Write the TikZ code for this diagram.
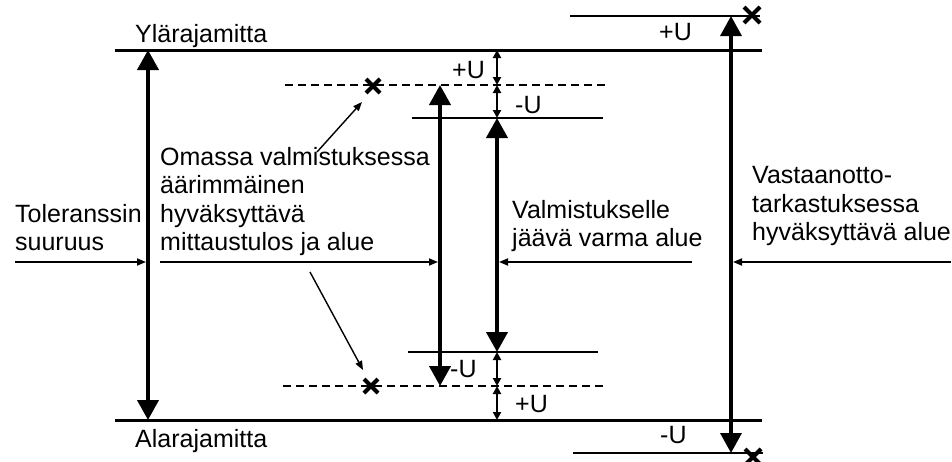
\documentclass[tikz,border=0pt]{standalone}
\usepackage{fontspec}
\setmainfont{Liberation Sans}
\usetikzlibrary{arrows.meta}
\begin{document}
\begin{tikzpicture}[x=1pt,y=-1pt,
  txt/.style={anchor=base west,inner sep=0pt,font=\fontsize{25}{29}\selectfont},
  hline/.style={line width=3pt},
  midline/.style={line width=2.2pt},
  dline/.style={line width=2.4pt,dash pattern=on 8pt off 5pt},
  bigarrow/.style={line width=4pt,{Triangle[length=20pt,width=21pt]}-{Triangle[length=20pt,width=21pt]}},
  smallarrow/.style={line width=2.2pt,{Triangle[length=8pt,width=8pt]}-{Triangle[length=8pt,width=8pt]}},
  pointer/.style={line width=1.7pt,-{Triangle[length=9pt,width=7pt]}},
  xmark/.style={line width=4pt}
]
\useasboundingbox (0,0) rectangle (952,461);

% coordinates
\coordinate (TL) at (115,50);   \coordinate (TR) at (762,50);
\coordinate (BL) at (115,420);  \coordinate (BR) at (762,420);
\coordinate (D1L) at (285,85);  \coordinate (D1R) at (608,85);
\coordinate (D2L) at (283,386); \coordinate (D2R) at (605,386);
\coordinate (S1L) at (412,118); \coordinate (S1R) at (603,118);
\coordinate (S2L) at (408,352); \coordinate (S2R) at (598,352);
\coordinate (R1L) at (570,16);  \coordinate (R1R) at (760,16);
\coordinate (R2L) at (573,453); \coordinate (R2R) at (763,453);

\coordinate (A0t) at (148,50);  \coordinate (A0b) at (148,420);
\coordinate (A1t) at (440,85);  \coordinate (A1b) at (440,386);
\coordinate (A2t) at (497,118); \coordinate (A2b) at (497,352);
\coordinate (A3t) at (731,16);  \coordinate (A3b) at (731,453);

\coordinate (u1) at (497,50);  \coordinate (u2) at (497,85);  \coordinate (u3) at (497,118);
\coordinate (u4) at (497,352); \coordinate (u5) at (497,386); \coordinate (u6) at (497,420);

\coordinate (X1) at (373,86);  \coordinate (X2) at (371,386);
\coordinate (X3) at (752,15);  \coordinate (X4) at (753,457);

\coordinate (p1s) at (15,262);  \coordinate (p1e) at (146,262);
\coordinate (p2s) at (160,262); \coordinate (p2e) at (438,262);
\coordinate (p3s) at (692,262); \coordinate (p3e) at (499,262);
\coordinate (p4s) at (951,262); \coordinate (p4e) at (733,262);

\coordinate (q1s) at (317,152); \coordinate (q1e) at (362,102);
\coordinate (q2s) at (310,272); \coordinate (q2e) at (363,370);

% horizontal lines
\draw[hline] (TL) -- (TR);
\draw[hline] (BL) -- (BR);
\draw[dline] (D1L) -- (D1R);
\draw[dline] (D2L) -- (D2R);
\draw[midline] (S1L) -- (S1R);
\draw[midline] (S2L) -- (S2R);
\draw[midline] (R1L) -- (R1R);
\draw[midline] (R2L) -- (R2R);

% big arrows
\draw[bigarrow] (A0t) -- (A0b);
\draw[bigarrow] (A1t) -- (A1b);
\draw[bigarrow] (A2t) -- (A2b);
\draw[bigarrow,line width=3.5pt] (A3t) -- (A3b);

% small U arrows
\draw[smallarrow] (u1) -- (u2);
\draw[smallarrow] (u2) -- (u3);
\draw[smallarrow] (u4) -- (u5);
\draw[smallarrow] (u5) -- (u6);

% x marks
\foreach \c/\s in {X1/7,X2/7,X3/8,X4/8}{
  \draw[xmark] (\c) ++(-\s,-\s) -- ++(2*\s,2*\s);
  \draw[xmark] (\c) ++(-\s,\s) -- ++(2*\s,-2*\s);
}

% pointers
\draw[pointer] (p1s) -- (p1e);
\draw[pointer] (p2s) -- (p2e);
\draw[pointer] (p3s) -- (p3e);
\draw[pointer] (p4s) -- (p4e);
\draw[pointer,line width=1.4pt] (q1s) -- (q1e);
\draw[pointer,line width=1.4pt] (q2s) -- (q2e);

% texts
\node[txt] (ylar) at (135,42) {Ylärajamitta};
\node[txt] (alar) at (135,447) {Alarajamitta};
\node[txt] (uA) at (452,78) {+U};
\node[txt] (uB) at (515,113) {-U};
\node[txt] (uC) at (659,40) {+U};
\node[txt] (uD) at (450,377) {-U};
\node[txt] (uE) at (515,412) {+U};
\node[txt] (uF) at (660,443) {-U};

\node[txt] (tol1) at (15,222) {Toleranssin};
\node[txt] (tol2) at (15,250.5) {suuruus};

\node[txt] (om1) at (160,165) {Omassa valmistuksessa};
\node[txt] (om2) at (160,193.5) {äärimmäinen};
\node[txt] (om3) at (160,222) {hyväksyttävä};
\node[txt] (om4) at (160,250.5) {mittaustulos ja alue};

\node[txt] (va1) at (512,218) {Valmistukselle};
\node[txt] (va2) at (512,246.5) {jäävä varma alue};

\node[txt] (vs1) at (752,183) {Vastaanotto-};
\node[txt] (vs2) at (752,212) {tarkastuksessa};
\node[txt] (vs3) at (752,240) {hyväksyttävä alue};
\end{tikzpicture}
\end{document}
